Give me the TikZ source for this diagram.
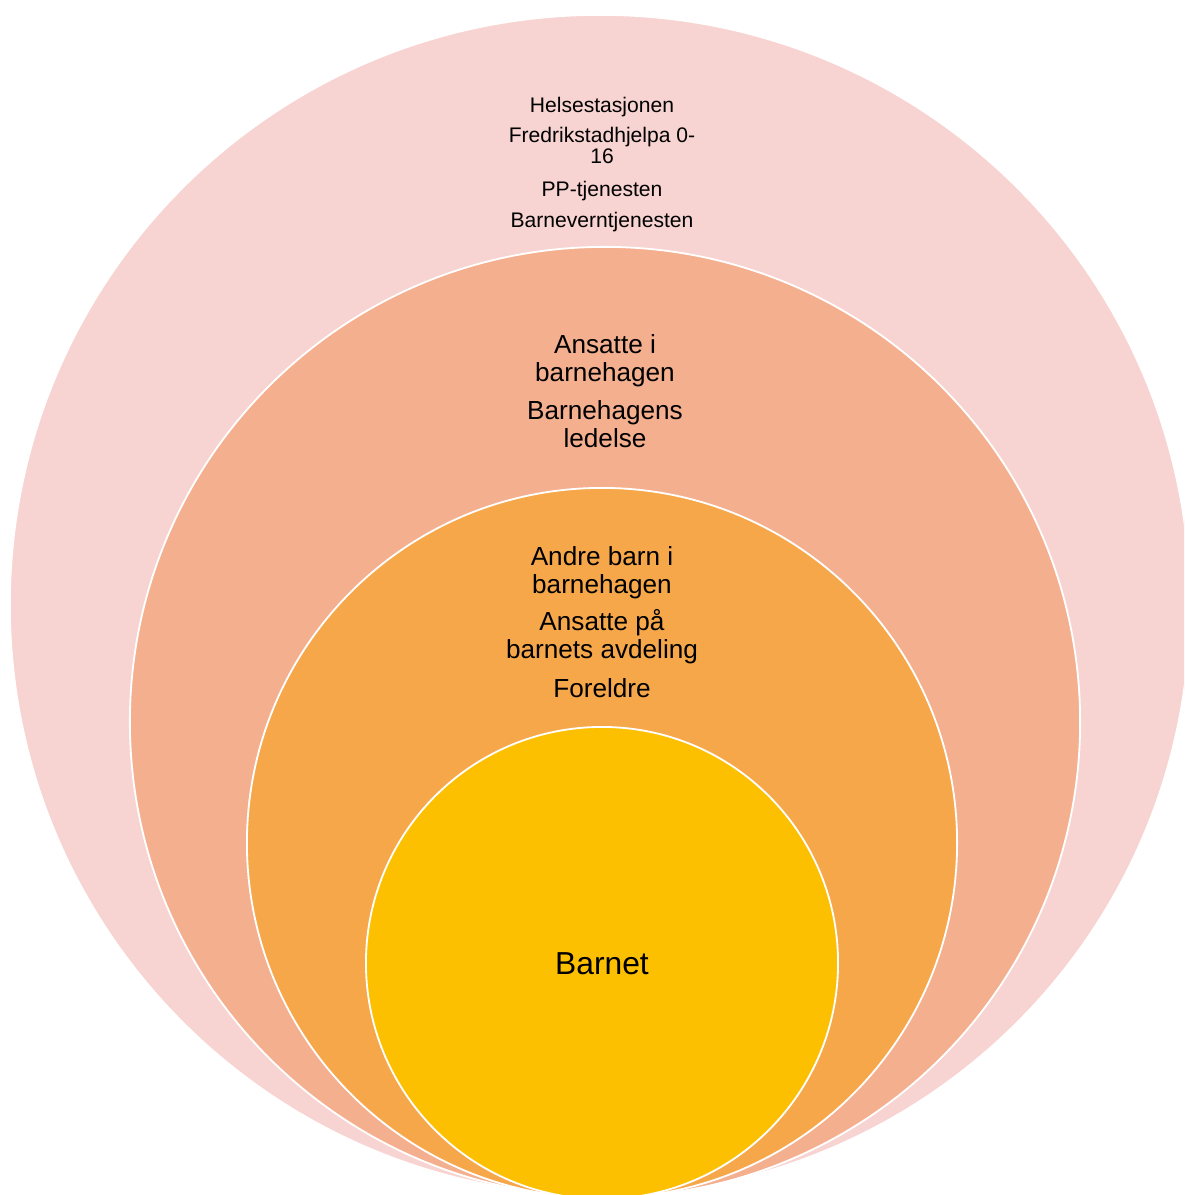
\documentclass[tikz,border=0pt]{standalone}
\usepackage{fontspec}
\setmainfont{Liberation Sans}
\usetikzlibrary{positioning}
\definecolor{ringOuter}{RGB}{247,212,209}
\definecolor{ringStaff}{RGB}{244,175,142}
\definecolor{ringNear}{RGB}{246,167,74}
\definecolor{ringChild}{RGB}{253,192,0}
\tikzset{
    ring/.style={draw=white, line width=1.3pt},
    outertext/.style={font=\fontsize{15}{15.5}\selectfont, align=center, inner sep=0pt, anchor=base},
    midtext/.style={font=\fontsize{18.6}{19.8}\selectfont, align=center, inner sep=0pt, anchor=base},
    childtext/.style={font=\fontsize{22.6}{24}\selectfont, inner sep=0pt, anchor=base}
}

\begin{document}
\begin{tikzpicture}[x=0.025cm, y=-0.025cm]
  \useasboundingbox (0,0) rectangle (1184,1195);
  \clip (0,0) rectangle (1184,1195);

  % Rings, outside in
  \filldraw[ring, fill=ringOuter] (600,605) circle (14.75cm);
  \filldraw[ring, fill=ringStaff] (605,722) circle (11.875cm);
  \filldraw[ring, fill=ringNear] (602,843) circle (8.875cm);
  \filldraw[ring, fill=ringChild] (602,963) circle (5.9cm);

  % Outer ring (base = last line)
  \node[outertext] (helse) at (602,113) {Helsestasjonen};
  \node[outertext] (fredrikstad) at (602,164) {Fredrikstadhjelpa 0-\\16};
  \node[outertext] (pptj) at (602,196) {PP-tjenesten};
  \node[outertext] (barnevern) at (602,227) {Barneverntjenesten};

  % Kindergarten ring
  \node[midtext] (ansatte) at (605,381) {Ansatte i\\barnehagen};
  \node[midtext] (ledelse) at (605,447) {Barnehagens\\ledelse};

  % Nearest ring
  \node[midtext] (andrebarn) at (602,593) {Andre barn i\\barnehagen};
  \node[midtext] (avdeling) at (602,658) {Ansatte på\\barnets avdeling};
  \node[midtext] (foreldre) at (602,697) {Foreldre};

  % Centre
  \node[childtext] (barnet) at (602,974) {Barnet};
\end{tikzpicture}
\end{document}
